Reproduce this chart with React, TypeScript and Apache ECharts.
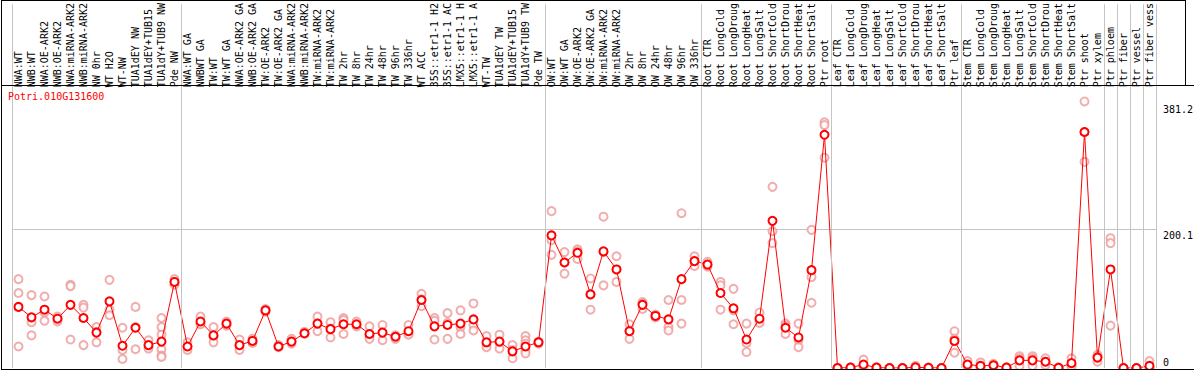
import React, { useEffect, useRef } from "react";
import * as echarts from "echarts";

const geneName = "Potri.010G131600";

const categories = [
  "NWA:WT", "NWB:WT", "NWA:OE-ARK2", "NWB:OE-ARK2", "NWA:miRNA-ARK2", "NWB:miRNA-ARK2", "NW 0hr", "WT H2O", "WT-NW", "TUA1dEY NW", "TUA1dEY+TUB15", "TUA1dY+TUB9 NW", "Pde NW",
  "NWA:WT GA", "NWBWT GA", "TW:WT", "TW:WT GA", "NWA:OE-ARK2 GA", "NWB:OE-ARK2 GA", "TW:OE-ARK2", "TW:OE-ARK2 GA", "NWA:miRNA-ARK2", "NWB:miRNA-ARK2", "TW:miRNA-ARK2", "TW:miRNA-ARK2", "TW 2hr", "TW 8hr", "TW 24hr", "TW 48hr", "TW 96hr", "TW 336hr", "WT ACC", "35S::etr1-1 H2", "35S::etr1-1 AC", "LMX5::etr1-1 H", "LMX5::etr1-1 A", "WT-TW", "TUA1dEY TW", "TUA1dEY+TUB15", "TUA1dY+TUB9 TW", "Pde TW",
  "OW:WT", "OW:WT GA", "OW:OE-ARK2", "OW:OE-ARK2 GA", "OW:miRNA-ARK2", "OW:miRNA-ARK2", "OW 2hr", "OW 8hr", "OW 24hr", "OW 48hr", "OW 96hr", "OW 336hr",
  "Root CTR", "Root LongCold", "Root LongDroug", "Root LongHeat", "Root LongSalt", "Root ShortCold", "Root ShortDrou", "Root ShortHeat", "Root ShortSalt", "Ptr root",
  "Leaf CTR", "Leaf LongCold", "Leaf LongDroug", "Leaf LongHeat", "Leaf LongSalt", "Leaf ShortCold", "Leaf ShortDrou", "Leaf ShortHeat", "Leaf ShortSalt", "Ptr leaf",
  "Stem CTR", "Stem LongCold", "Stem LongDroug", "Stem LongHeat", "Stem LongSalt", "Stem ShortCold", "Stem ShortDrou", "Stem ShortHeat", "Stem ShortSalt", "Ptr shoot", "Ptr xylem",
  "Ptr phloem", "Ptr fiber", "Ptr vessel", "Ptr fiber vess",
];

const meanValues = [
  88, 73, 84, 71, 91, 72, 51, 96, 32, 58, 33, 38, 124,
  31, 67, 47, 64, 33, 39, 83, 31, 38, 50, 64, 56, 63, 63, 49, 51, 45, 53, 98, 60, 62, 64, 70, 37, 38, 24, 31, 37,
  191, 152, 166, 106, 168, 142, 53, 91, 75, 70, 128, 154,
  149, 108, 86, 41, 71, 212, 58, 44, 141, 336,
  0, 0.5, 5, 0.5, 0, 0, 1, 0.3, 0, 39,
  5, 3, 4, 0.5, 11, 11, 9, 0.3, 7, 340, 15,
  142, 0, 0, 3,
];

const replicateValues = [
  [128, 108, 31], [105, 66, 47], [103, 80, 68], [74, 71, 67], [120, 118, 41], [91, 87, 33], [59, 52, 37], [127, 84, 76], [58, 26, 13], [88, 59, 27], [40, 31, 28], [72, 59, 48, 27, 18, 16], [128, 124, 120],
  [37, 31, 26], [74, 64, 63], [59, 45, 37], [67, 63, 61], [41, 32, 26], [42, 39, 36], [85, 82, 81], [33, 31, 30], [42, 38, 35], [52, 50, 49], [74, 64, 53], [66, 57, 44], [72, 69, 49], [67, 62, 60], [60, 47, 42], [62, 51, 40], [47, 45, 42], [62, 49, 48], [107, 99, 89], [72, 68, 41], [79, 65, 42], [83, 59, 49], [93, 62, 54], [46, 34, 30], [48, 37, 28], [33, 26, 14], [46, 40, 35, 25, 21], [38, 37, 35],
  [226, 184, 163], [167, 152, 136], [171, 168, 157], [129, 106, 84], [218, 167, 119], [161, 142, 124], [63, 54, 42], [95, 93, 85], [77, 74, 73], [98, 59, 54], [223, 98, 64], [161, 154, 147],
  [153, 149, 146], [124, 119, 84], [114, 83, 63], [64, 36, 23], [80, 68, 65], [261, 197, 180], [64, 61, 49], [64, 40, 30], [199, 131, 94], [354, 350, 303],
  [0, 0, 0], [1, 0.5, 0], [12, 3, 1], [1, 0.5, 0], [0, 0, 0], [0, 0, 0], [3, 0, 0], [1, 0, 0], [0, 0, 0], [53, 42, 22],
  [10, 4, 2], [8, 2, 0], [6, 4, 3], [1, 0.5, 0], [17, 14, 3], [17, 14, 3], [14, 9, 4], [1, 0, 0], [14, 4, 2], [384, 340, 297], [19, 16, 9],
  [187, 180, 61], [0, 0, 0], [0, 0, 0], [10, 0, 0],
];

// group boundaries (in category units)
const groupBoundaries = [0, 13, 41, 53, 63, 73, 84, 85, 86, 87, 88];
const yTickLabels = [0, 200.1, 381.2];
const gridValue = 200.1;

const MONO = "'DejaVu Sans Mono', 'Liberation Mono', monospace";

export default function App() {
  const ref = useRef<HTMLDivElement>(null);

  useEffect(() => {
    if (!ref.current) return;
    const chart = echarts.init(ref.current, null, { renderer: "svg" });

    const scatterData: [number, number][] = [];
    replicateValues.forEach((reps, i) => {
      reps.forEach((v) => scatterData.push([i, v]));
    });

    const frame = [
      { id: "fl", type: "line", shape: { x1: 1.5, y1: 0, x2: 1.5, y2: 370 }, style: { stroke: "#000", lineWidth: 1 }, z: 100 },
      { id: "ft", type: "line", shape: { x1: 1, y1: 0.5, x2: 1186, y2: 0.5 }, style: { stroke: "#000", lineWidth: 1 }, z: 100 },
      { id: "fr", type: "line", shape: { x1: 1185.5, y1: 0, x2: 1185.5, y2: 85 }, style: { stroke: "#000", lineWidth: 1 }, z: 100 },
      { id: "fm", type: "line", shape: { x1: 1, y1: 85.5, x2: 1194, y2: 85.5 }, style: { stroke: "#000", lineWidth: 1 }, z: 100 },
      { id: "fb", type: "line", shape: { x1: 1, y1: 369.5, x2: 1194, y2: 369.5 }, style: { stroke: "#000", lineWidth: 1 }, z: 100 },
      {
        id: "gene",
        type: "text",
        x: 8,
        y: 91,
        style: { text: geneName, fill: "#ff0000", font: `10px ${MONO}` },
        z: 100,
      },
    ];

    chart.setOption({
      animation: false,
      backgroundColor: "#ffffff",
      grid: { left: 12, right: 38, top: 0, bottom: 2, containLabel: false },
      xAxis: [
        {
          type: "category",
          data: categories,
          position: "top",
          offset: -85,
          boundaryGap: true,
          axisLine: { show: false },
          axisTick: { show: false },
          splitLine: { show: false },
          axisLabel: {
            interval: 0,
            rotate: 90,
            margin: 2,
            padding: [6, 0, 0, 0],
            fontFamily: MONO,
            fontSize: 10,
            color: "#000",
          },
        },
        {
          type: "value",
          position: "bottom",
          min: 0,
          max: categories.length,
          show: false,
        },
      ],
      yAxis: {
        type: "value",
        position: "right",
        min: 0,
        max: 524,
        axisLine: { show: false },
        axisTick: { show: false },
        splitLine: { show: false },
        axisLabel: { show: false },
      },
      graphic: frame,
      series: [
        {
          type: "scatter",
          name: "boundaries",
          xAxisIndex: 1,
          yAxisIndex: 0,
          data: [],
          silent: true,
          markLine: {
            silent: true,
            symbol: "none",
            label: { show: false },
            lineStyle: { color: "#c4c4c4", width: 1, type: "solid" },
            data: groupBoundaries.map((b) => ({ xAxis: b })),
          },
        },
        {
          type: "scatter",
          name: "replicates",
          xAxisIndex: 0,
          yAxisIndex: 0,
          data: scatterData,
          symbol: "emptyCircle",
          symbolSize: 8,
          itemStyle: { color: "#ee9a9a", borderColor: "#ee9a9a", borderWidth: 1.5 },
          z: 3,
        },
        {
          type: "line",
          name: geneName,
          xAxisIndex: 0,
          yAxisIndex: 0,
          data: meanValues,
          symbol: "emptyCircle",
          symbolSize: 8,
          lineStyle: { color: "#ff0000", width: 1 },
          itemStyle: { color: "#ff0000", borderColor: "#ff0000", borderWidth: 1.5 },
          z: 4,
          markLine: {
            silent: true,
            symbol: "none",
            label: { show: false },
            lineStyle: { color: "#c4c4c4", width: 1, type: "solid" },
            data: [{ yAxis: gridValue }],
            z: 1,
          },
        },
      ],
    });

    // y-axis labels placed through the chart's own scale
    const labelX = (chart.getWidth() - 38) + 7;
    const yLabels = yTickLabels.map((v, i) => {
      const py = chart.convertToPixel({ yAxisIndex: 0 }, v) as number;
      return {
        id: "ylab" + i,
        type: "text",
        x: labelX,
        y: v === 0 ? py - 6 : py + 6,
        style: {
          text: String(v),
          fill: "#000",
          font: `10px ${MONO}`,
          verticalAlign: "middle",
          align: "left",
        },
        z: 100,
      };
    });
    chart.setOption({ graphic: [...frame, ...yLabels] });

    return () => chart.dispose();
  }, []);

  return (
    <div
      ref={ref}
      style={{ position: "fixed", left: 0, top: 0, width: 1194, height: 370 }}
    />
  );
}
